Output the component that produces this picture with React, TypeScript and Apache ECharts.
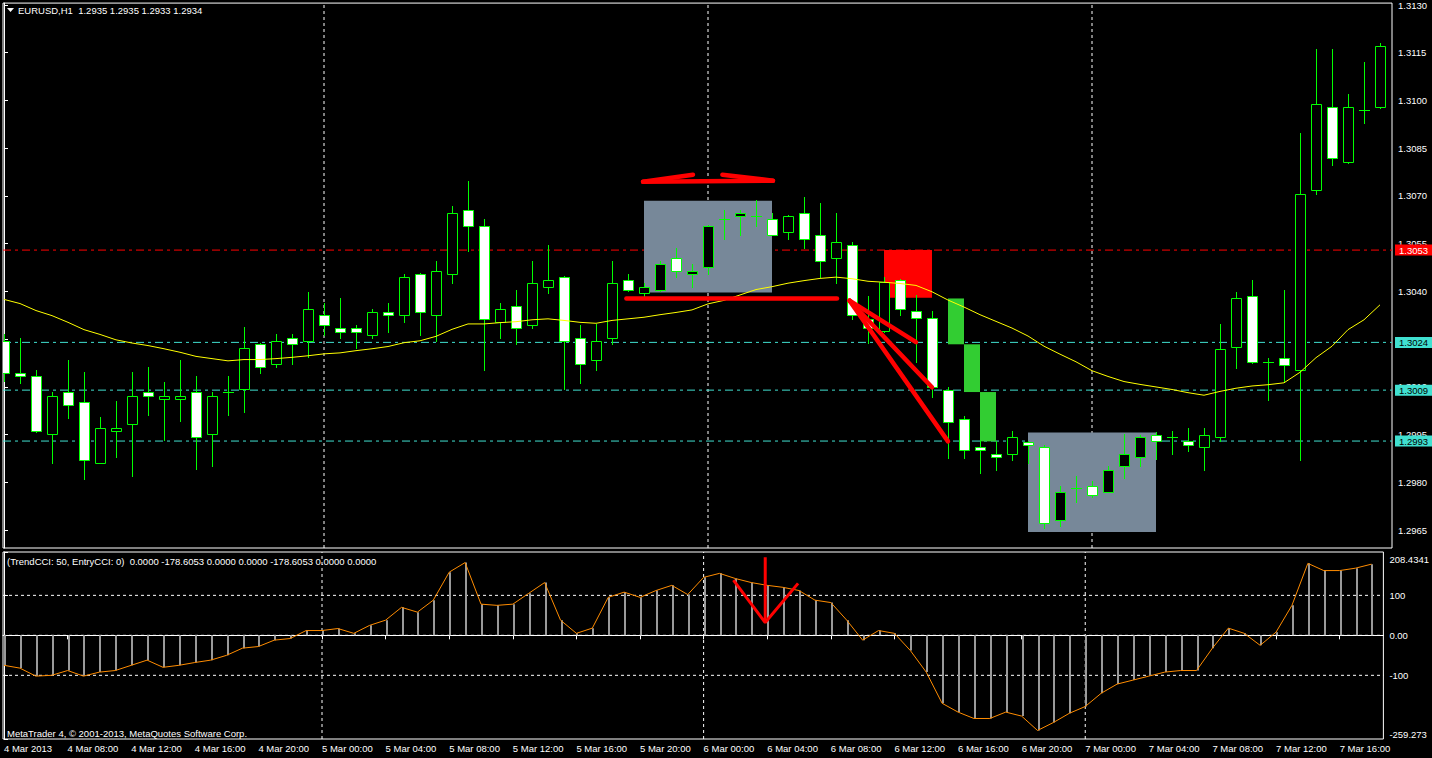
import React, { useEffect, useRef } from "react";
import * as echarts from "echarts";

// ---------- DATA ----------
const timeLabels = [
  "4 Mar 2013", "4 Mar 08:00", "4 Mar 12:00", "4 Mar 16:00", "4 Mar 20:00",
  "5 Mar 00:00", "5 Mar 04:00", "5 Mar 08:00", "5 Mar 12:00", "5 Mar 16:00", "5 Mar 20:00",
  "6 Mar 00:00", "6 Mar 04:00", "6 Mar 08:00", "6 Mar 12:00", "6 Mar 16:00", "6 Mar 20:00",
  "7 Mar 00:00", "7 Mar 04:00", "7 Mar 08:00", "7 Mar 12:00", "7 Mar 16:00",
];
const timeLabelBars = [0, 4, 8, 12, 16, 20, 24, 28, 32, 36, 40, 44, 48, 52, 56, 60, 64, 68, 72, 76, 80, 84];
const daySeparatorBars = [20, 44, 68];

const opens = [
  1.30244, 1.30145, 1.30135, 1.29953, 1.30085, 1.30054, 1.29862, 1.29963, 1.29984, 1.30085,
  1.30062, 1.30062, 1.30085, 1.29953, 1.30085, 1.30093, 1.30236, 1.30173, 1.30253, 1.30245,
  1.30327, 1.30286, 1.30286, 1.30264, 1.30336, 1.30327, 1.30455, 1.30327, 1.30455, 1.30656,
  1.30606, 1.30303, 1.30355, 1.30295, 1.30414, 1.30446, 1.30255, 1.30186, 1.30255, 1.30436,
  1.30396, 1.30405, 1.30505, 1.30455, 1.30476, 1.30628, 1.30637, 1.30638, 1.30628, 1.30587,
  1.30647, 1.30578, 1.30505, 1.30546, 1.30315, 1.30275, 1.30437, 1.30338, 1.30316, 1.30089,
  1.29999, 1.29911, 1.29888, 1.29888, 1.29928, 1.29911, 1.29682, 1.29782, 1.29790, 1.29771,
  1.29852, 1.29881, 1.29950, 1.29942, 1.29929, 1.29911, 1.29942, 1.30227, 1.30387, 1.30177,
  1.30190, 1.30154, 1.30719, 1.30979, 1.30807, 1.30970, 1.30979,
];
const highs = [
  1.30265, 1.30255, 1.30154, 1.30085, 1.30186, 1.30146, 1.30005, 1.30055, 1.30146, 1.30164,
  1.30114, 1.30186, 1.30135, 1.30085, 1.30135, 1.30287, 1.30238, 1.30265, 1.30265, 1.30397,
  1.30365, 1.30378, 1.30296, 1.30346, 1.30365, 1.30455, 1.30457, 1.30497, 1.30670, 1.30748,
  1.30628, 1.30364, 1.30405, 1.30497, 1.30547, 1.30448, 1.30296, 1.30298, 1.30497, 1.30455,
  1.30427, 1.30497, 1.30537, 1.30487, 1.30608, 1.30656, 1.30656, 1.30688, 1.30647, 1.30639,
  1.30698, 1.30678, 1.30647, 1.30556, 1.30387, 1.30447, 1.30439, 1.30388, 1.30339, 1.30100,
  1.30010, 1.29932, 1.29929, 1.29961, 1.29930, 1.29919, 1.29790, 1.29821, 1.29804, 1.29852,
  1.29952, 1.29950, 1.29958, 1.29961, 1.29971, 1.29971, 1.30298, 1.30398, 1.30437, 1.30190,
  1.30406, 1.30898, 1.31161, 1.31161, 1.31020, 1.31120, 1.31180,
];
const lows = [
  1.30120, 1.30112, 1.29960, 1.29861, 1.30002, 1.29811, 1.29860, 1.29880, 1.29819, 1.30011,
  1.29932, 1.29992, 1.29841, 1.29851, 1.30011, 1.30021, 1.30143, 1.30162, 1.30173, 1.30194,
  1.30262, 1.30253, 1.30223, 1.30253, 1.30272, 1.30303, 1.30264, 1.30244, 1.30426, 1.30527,
  1.30152, 1.30253, 1.30236, 1.30286, 1.30394, 1.30092, 1.30112, 1.30152, 1.30236, 1.30403,
  1.30385, 1.30403, 1.30445, 1.30414, 1.30455, 1.30565, 1.30578, 1.30606, 1.30576, 1.30565,
  1.30537, 1.30445, 1.30427, 1.30314, 1.30237, 1.30273, 1.30327, 1.30177, 1.30069, 1.29878,
  1.29878, 1.29829, 1.29839, 1.29870, 1.29862, 1.29656, 1.29663, 1.29739, 1.29754, 1.29769,
  1.29814, 1.29852, 1.29873, 1.29888, 1.29900, 1.29839, 1.29929, 1.30159, 1.30175, 1.30058,
  1.30115, 1.29872, 1.30706, 1.30797, 1.30805, 1.30928, 1.30977,
];
const closes = [
  1.30145, 1.30135, 1.29962, 1.30073, 1.30044, 1.29872, 1.29972, 1.29972, 1.30073, 1.30073,
  1.30073, 1.30073, 1.29943, 1.30073, 1.30085, 1.30223, 1.30164, 1.30245, 1.30236, 1.30345,
  1.30295, 1.30273, 1.30273, 1.30336, 1.30327, 1.30446, 1.30336, 1.30465, 1.30647, 1.30606,
  1.30314, 1.30345, 1.30286, 1.30427, 1.30436, 1.30245, 1.30173, 1.30245, 1.30427, 1.30405,
  1.30414, 1.30487, 1.30465, 1.30465, 1.30606, 1.30628, 1.30647, 1.30638, 1.30578, 1.30637,
  1.30564, 1.30496, 1.30556, 1.30327, 1.30284, 1.30430, 1.30346, 1.30316, 1.30100, 1.29991,
  1.29902, 1.29902, 1.29880, 1.29942, 1.29919, 1.29674, 1.29771, 1.29782, 1.29762, 1.29840,
  1.29889, 1.29942, 1.29929, 1.29942, 1.29919, 1.29950, 1.30218, 1.30378, 1.30177, 1.30177,
  1.30169, 1.30706, 1.30989, 1.30819, 1.30979, 1.30970, 1.31170,
];
const movingAverage = [
  1.30375, 1.30362, 1.30340, 1.30324, 1.30303, 1.30280, 1.30265, 1.30248, 1.30238, 1.30230,
  1.30220, 1.30209, 1.30196, 1.30189, 1.30182, 1.30186, 1.30186, 1.30189, 1.30193, 1.30198,
  1.30204, 1.30207, 1.30214, 1.30220, 1.30227, 1.30239, 1.30245, 1.30259, 1.30281, 1.30298,
  1.30298, 1.30302, 1.30305, 1.30311, 1.30314, 1.30309, 1.30303, 1.30300, 1.30309, 1.30314,
  1.30319, 1.30327, 1.30334, 1.30342, 1.30361, 1.30372, 1.30389, 1.30406, 1.30415, 1.30426,
  1.30434, 1.30441, 1.30445, 1.30440, 1.30432, 1.30429, 1.30425, 1.30419, 1.30399, 1.30373,
  1.30351, 1.30327, 1.30306, 1.30285, 1.30260, 1.30228, 1.30203, 1.30179, 1.30151, 1.30133,
  1.30117, 1.30108, 1.30100, 1.30092, 1.30082, 1.30074, 1.30086, 1.30096, 1.30103, 1.30107,
  1.30113, 1.30146, 1.30192, 1.30228, 1.30280, 1.30311, 1.30358,
];
const cciValues = [
  -75, -82, -102, -100, -88, -102, -92, -88, -75, -62,
  -80, -75, -68, -62, -50, -32, -28, -12, -8, 12,
  12, 17, 5, 25, 38, 70, 58, 88, 158, 182,
  78, 75, 78, 105, 132, 38, 5, 18, 95, 108,
  95, 112, 125, 102, 145, 155, 142, 132, 125, 120,
  112, 88, 82, 38, -12, 12, 5, -38, -92, -170,
  -192, -208, -208, -192, -202, -238, -218, -195, -178, -145,
  -122, -112, -102, -92, -88, -88, -32, 18, 5, -25,
  8, 75, 180, 162, 162, 168, 178,
];

const priceTicks = [1.3130, 1.3115, 1.3100, 1.3085, 1.3070, 1.3055, 1.3040, 1.3025, 1.3010, 1.2995, 1.2980, 1.2965];
const priceTickLabels = [1.3130, 1.3115, 1.3100, 1.3085, 1.3070, 1.3055, 1.3040, 1.3010, 1.2995, 1.2980, 1.2965];
const cciTicks = [208.4341, 100, 0, -100, -259.273];
const cciLevels = [100, 0, -100];
const priceLevels = [1.3053, 1.3024, 1.3009, 1.2993];
const priceLevelColors = ["#ff0000", "#40e0d0", "#40e0d0", "#40e0d0"];
const priceLevelTextColors = ["#ffffff", "#000000", "#000000", "#000000"];

// drawn objects (bar index, price)
const boxes = [
  [40, 1.30685, 48, 1.30397],
  [64, 1.29957, 72, 1.29644],
  [55, 1.30530, 58, 1.30380],
  [59, 1.30378, 60, 1.30234],
  [60, 1.30234, 61, 1.30084],
  [61, 1.30084, 62, 1.29929],
];
const boxColors = ["#778899", "#778899", "#ff0000", "#32cd32", "#32cd32", "#32cd32"];
const trendLines = [
  [[38.9, 1.30378], [52.06, 1.30378]],
  [[52.85, 1.30371], [57, 1.30241]],
  [[52.85, 1.30371], [58, 1.30099]],
  [[52.85, 1.30371], [59, 1.29929]],
  [[39.94, 1.30745], [48.06, 1.30748]],
  [[39.94, 1.30745], [43.06, 1.30767]],
  [[44.9, 1.30767], [48.06, 1.30748]],
];
const arrowLines = [
  [[47.875, 195], [47.875, 32]],
  [[45.875, 138], [47.875, 32], [49.94, 130]],
];

// ---------- LAYOUT ----------
const X_MIN = -0.0625;
const X_MAX = 86.75;
const Y_MIN = 1.29594;
const Y_MAX = 1.31306;
const C_MIN = -259.273;
const C_MAX = 208.4341;
const FONT = "Liberation Sans";
const FS = 9.5;

function buildOption() {
  const candleData = opens.map((o, i) => [i, o, closes[i], lows[i], highs[i]]);
  const maData = movingAverage.map((v, i) => [i, v]);
  const cciData = cciValues.map((v, i) => [i, v]);

  const series: any[] = [];

  daySeparatorBars.forEach((b) => {
    series.push({
      type: "line", xAxisIndex: 0, yAxisIndex: 0, z: 1, silent: true, symbol: "none",
      data: [[b, Y_MIN], [b, Y_MAX]],
      lineStyle: { color: "#ffffff", width: 1, type: [3, 3] },
    });
    series.push({
      type: "line", xAxisIndex: 1, yAxisIndex: 1, z: 1, silent: true, symbol: "none",
      data: [[b, C_MIN], [b, C_MAX]],
      lineStyle: { color: "#ffffff", width: 1, type: [3, 3] },
    });
  });

  priceLevels.forEach((lv, k) => {
    series.push({
      type: "line", xAxisIndex: 0, yAxisIndex: 0, z: 1, silent: true, symbol: "none",
      data: [[X_MIN, lv], [X_MAX, lv]],
      lineStyle: { color: priceLevelColors[k], width: 1, type: [8, 4, 3, 4] },
      endLabel: {
        show: true, formatter: () => lv.toFixed(4), color: priceLevelTextColors[k],
        backgroundColor: priceLevelColors[k], padding: [1, 4, 0, 4], distance: 3,
        fontFamily: FONT, fontSize: FS,
      },
    });
  });

  cciLevels.forEach((lv) => {
    series.push({
      type: "line", xAxisIndex: 1, yAxisIndex: 1, z: 1, silent: true, symbol: "none",
      data: [[X_MIN, lv], [X_MAX, lv]],
      lineStyle: { color: "#ffffff", width: 1, type: [3, 3] },
    });
  });

  series.push({
    type: "custom", xAxisIndex: 0, yAxisIndex: 0, z: 2, silent: true, clip: true,
    data: boxes.map((b, k) => [...b, k]),
    renderItem: (_p: any, api: any) => {
      const a = api.coord([api.value(0), api.value(1)]);
      const b = api.coord([api.value(2), api.value(3)]);
      const k = api.value(4);
      return {
        type: "rect",
        shape: { x: Math.min(a[0], b[0]), y: Math.min(a[1], b[1]), width: Math.abs(b[0] - a[0]), height: Math.abs(b[1] - a[1]) },
        style: { fill: boxColors[k] },
      };
    },
  });

  series.push({
    type: "custom", xAxisIndex: 0, yAxisIndex: 0, z: 3, silent: true, clip: true,
    data: candleData,
    renderItem: (_p: any, api: any) => {
      const i = api.value(0), o = api.value(1), c = api.value(2), l = api.value(3), h = api.value(4);
      const pO = api.coord([i, o]);
      const yC = api.coord([i, c])[1];
      const yL = api.coord([i, l])[1];
      const yH = api.coord([i, h])[1];
      const x = Math.round(pO[0]) + 0.5;
      const top = Math.round(Math.min(pO[1], yC));
      const bot = Math.round(Math.max(pO[1], yC));
      const children: any[] = [
        { type: "line", shape: { x1: x, y1: Math.round(yH), x2: x, y2: Math.round(yL) + 1 }, style: { stroke: "#00ff00", lineWidth: 1 } },
      ];
      if (bot - top < 1) {
        children.push({ type: "line", shape: { x1: x - 5.5, y1: top + 0.5, x2: x + 5.5, y2: top + 0.5 }, style: { stroke: "#00ff00", lineWidth: 1 } });
      } else {
        children.push({
          type: "rect", shape: { x: x - 5, y: top + 0.5, width: 10, height: bot - top },
          style: { fill: c > o ? "#000000" : "#ffffff", stroke: "#00ff00", lineWidth: 1 },
        });
      }
      return { type: "group", children };
    },
  });

  series.push({
    type: "line", xAxisIndex: 0, yAxisIndex: 0, z: 4, silent: true, symbol: "none",
    data: maData, lineStyle: { color: "#ffff00", width: 1 },
  });

  trendLines.forEach((tl) => {
    series.push({
      type: "line", xAxisIndex: 0, yAxisIndex: 0, z: 5, silent: true, symbol: "none",
      data: tl, lineStyle: { color: "#ff0000", width: 4.5, cap: "round" },
    });
  });

  series.push({
    type: "custom", xAxisIndex: 1, yAxisIndex: 1, z: 3, silent: true, clip: true,
    data: cciData,
    renderItem: (_p: any, api: any) => {
      const i = api.value(0), v = api.value(1);
      const p0 = api.coord([i, 0]);
      const p1 = api.coord([i, v]);
      const x = Math.round(p0[0]) + 1;
      return { type: "line", shape: { x1: x, y1: p0[1], x2: x, y2: p1[1] }, style: { stroke: "#9a9a9a", lineWidth: 2 } };
    },
  });

  series.push({
    type: "line", xAxisIndex: 1, yAxisIndex: 1, z: 4, silent: true, symbol: "none",
    data: cciData, lineStyle: { color: "#ff8c00", width: 1 },
  });

  arrowLines.forEach((al) => {
    series.push({
      type: "line", xAxisIndex: 1, yAxisIndex: 1, z: 5, silent: true, symbol: "none",
      data: al, lineStyle: { color: "#ff0000", width: 3 },
    });
  });

  const richBase = { color: "#ffffff", fontFamily: FONT, fontSize: FS };

  return {
    animation: false,
    backgroundColor: "#000000",
    textStyle: { fontFamily: FONT },
    grid: [
      { left: 3, top: 2, width: 1389, height: 546, show: true, borderColor: "#ffffff", borderWidth: 1, backgroundColor: "transparent" },
      { left: 3, top: 552, width: 1389, height: 187, show: true, borderColor: "#ffffff", borderWidth: 1, backgroundColor: "transparent" },
    ],
    xAxis: [
      { gridIndex: 0, type: "value", min: X_MIN, max: X_MAX, show: false },
      {
        gridIndex: 1, type: "value", min: X_MIN, max: X_MAX,
        axisLine: { show: true, lineStyle: { color: "#ffffff" } },
        axisTick: { show: true, customValues: timeLabelBars, length: 4, lineStyle: { color: "#ffffff" } },
        axisLabel: {
          customValues: timeLabelBars, color: "#ffffff", fontFamily: FONT, fontSize: FS, align: "left", margin: 4,
          formatter: (v: number) => timeLabels[timeLabelBars.indexOf(Math.round(v))] ?? "",
        },
        splitLine: { show: false },
      },
    ],
    yAxis: [
      {
        gridIndex: 0, type: "value", position: "right", min: Y_MIN, max: Y_MAX,
        axisLine: { show: true, lineStyle: { color: "#ffffff" } },
        axisTick: { show: true, customValues: priceTicks, length: 4, lineStyle: { color: "#ffffff" } },
        axisLabel: { customValues: priceTickLabels, color: "#ffffff", fontFamily: FONT, fontSize: FS, margin: 6, formatter: (v: number) => v.toFixed(4) },
        splitLine: { show: false },
      },
      {
        gridIndex: 1, type: "value", position: "right", min: C_MIN, max: C_MAX,
        axisLine: { show: true, lineStyle: { color: "#ffffff" } },
        axisTick: { show: true, customValues: cciTicks, length: 4, lineStyle: { color: "#ffffff" } },
        axisLabel: {
          customValues: cciTicks, color: "#ffffff", fontFamily: FONT, fontSize: FS, margin: 6,
          formatter: (v: number) => {
            if (Math.abs(v - C_MAX) < 1e-6) return `{top|${C_MAX}}`;
            if (Math.abs(v - C_MIN) < 1e-6) return `{bot|${C_MIN}}`;
            return v === 0 ? "0.00" : String(v);
          },
          rich: {
            top: { ...richBase, padding: [14, 0, 0, 0] },
            bot: { ...richBase, padding: [0, 0, 10, 0] },
          },
        },
        splitLine: { show: false },
      },
    ],
    graphic: [
      { type: "polygon", shape: { points: [[7, 8], [14, 8], [10.5, 12]] }, style: { fill: "#ffffff" } },
      { type: "text", x: 18, y: 10, style: { text: "EURUSD,H1  1.2935 1.2935 1.2933 1.2934", fill: "#ffffff", font: `${FS}px ${FONT}`, verticalAlign: "middle" } },
      { type: "text", x: 7, y: 561, style: { text: "(TrendCCI: 50, EntryCCI: 0)  0.0000 -178.6053 0.0000 0.0000 -178.6053 0.0000 0.0000", fill: "#ffffff", font: `${FS}px ${FONT}`, verticalAlign: "middle" } },
      { type: "text", x: 7, y: 733, style: { text: "MetaTrader 4, © 2001-2013, MetaQuotes Software Corp.", fill: "#ffffff", font: `${FS}px ${FONT}`, verticalAlign: "middle" } },
    ],
    series,
  };
}

export default function App() {
  const ref = useRef<HTMLDivElement>(null);
  useEffect(() => {
    if (!ref.current) return;
    const chart = echarts.init(ref.current, null, { renderer: "svg" });
    chart.setOption(buildOption() as any);
    return () => chart.dispose();
  }, []);
  return (
    <div
      ref={ref}
      style={{ position: "fixed", left: 0, top: 0, width: 1432, height: 758, background: "#000000" }}
    />
  );
}
